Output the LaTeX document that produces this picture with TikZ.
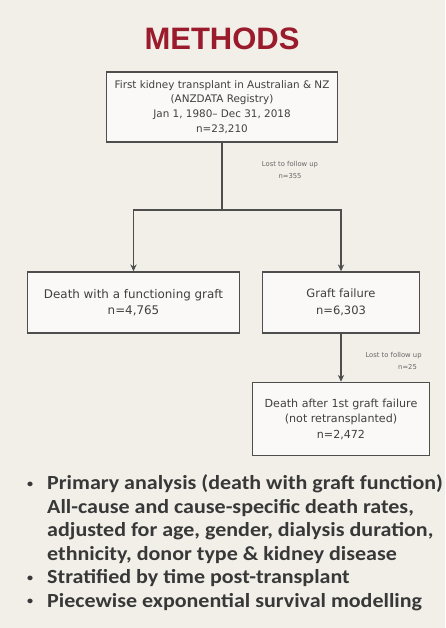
\documentclass[tikz,border=0pt]{standalone}
\usepackage{fontspec}
\setmainfont{DejaVu Sans}
\newfontfamily\bulletfont[FakeStretch=1.1]{Carlito}
\newfontfamily\titlefont{Liberation Sans}
\usetikzlibrary{positioning,arrows.meta}
\definecolor{pagebg}{HTML}{F2EFE9}
\definecolor{titlered}{HTML}{9A1B2C}
\definecolor{boxline}{HTML}{4E4E4E}
\definecolor{bodytext}{HTML}{383838}
\newcommand{\dotmark}{\raisebox{2.5pt}{\fontsize{11}{11}\selectfont\textbullet}}

\begin{document}
\begin{tikzpicture}[x=1pt,y=1pt,>={Stealth[length=2.4mm,width=2.2mm]},
  box/.style={draw=boxline,line width=1.5pt,fill=white!65!pagebg,align=center,inner sep=2pt,text=black!75},
  lost/.style={font=\fontsize{6.8}{12}\selectfont,text=black!60,align=center}]
\fill[pagebg] (0,0) rectangle (445,628);
\useasboundingbox (0,0) rectangle (445,628);
\node[font=\titlefont\bfseries\fontsize{31}{31}\selectfont,text=titlered] (title) at (222,589) {METHODS};
\node[box,minimum width=231,minimum height=70,font=\fontsize{10.4}{14.7}\selectfont] (cohort) at (222,521) {First kidney transplant in Australian \& NZ\\(ANZDATA Registry)\\Jan 1, 1980-- Dec 31, 2018\\n=23,210};
\coordinate (split) at (222,418);
\node[lost] (lost1) at (290,458) {Lost to follow up\\n=355};
\node[box,minimum width=212,minimum height=61,font=\fontsize{11.9}{16.5}\selectfont] (death) at (133.5,325.5) {Death with a functioning graft\\n=4,765};
\node[box,minimum width=157,minimum height=61,font=\fontsize{11.5}{16.5}\selectfont] (failure) at (341,325.5) {Graft failure\\n=6,303};
\node[box,minimum width=177,minimum height=73,font=\fontsize{11.1}{15.5}\selectfont] (later) at (341,209) {Death after 1st graft failure\\(not retransplanted)\\n=2,472};
\node[lost,anchor=west] (lost2) at (362,267) {Lost to follow up\\\hspace*{28pt}n=25};
\draw[boxline,line width=1.2pt] (cohort) -- (split);
\draw[boxline,line width=1.2pt,->] (split) -| (death.north);
\draw[boxline,line width=1.2pt,->] (split) -| (failure.north);
\draw[boxline,line width=1.2pt,->] (failure) -- (later);
\node[anchor=north west,inner sep=0pt,text=bodytext,font=\bulletfont\bfseries\fontsize{20}{23.5}\selectfont] (notes) at (27,155) {%
\begin{tabular}{@{}l@{\hspace{14pt}}l@{}}
\dotmark & Primary analysis (death with graft function)\\
 & All-cause and cause-specific death rates,\\
 & adjusted for age, gender, dialysis duration,\\
 & ethnicity, donor type \& kidney disease\\
\dotmark & Stratified by time post-transplant\\
\dotmark & Piecewise exponential survival modelling
\end{tabular}};
\end{tikzpicture}
\end{document}
